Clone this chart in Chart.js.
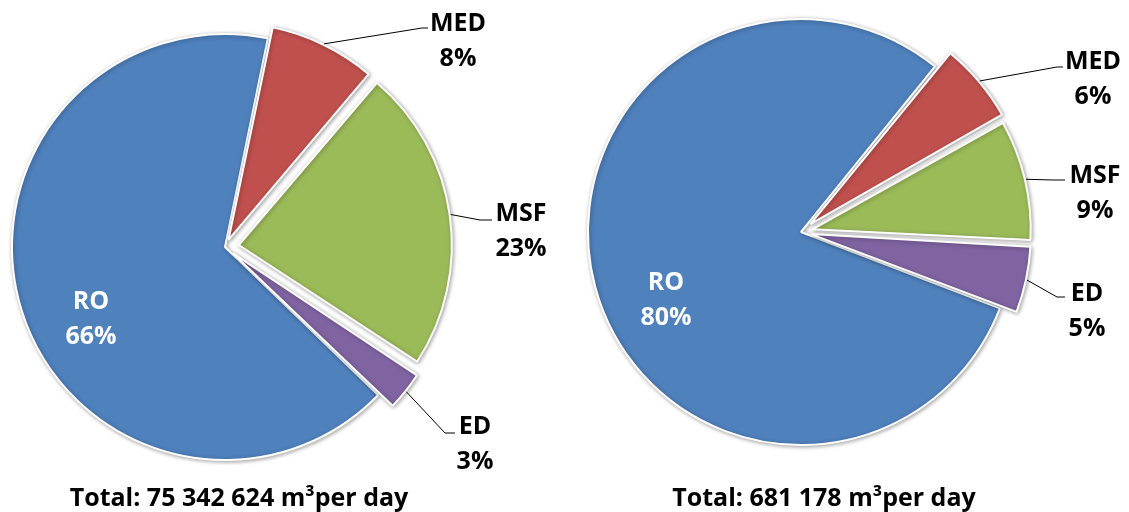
<!DOCTYPE html>
<html>
<head>
<meta charset="utf-8">
<script src="https://cdn.jsdelivr.net/npm/chart.js@4.4.0/dist/chart.umd.min.js"></script>
<style>
  body { margin: 0; background: #fff; }
  .wrap { position: relative; width: 1129px; height: 512px; overflow: hidden; }
  .wrap canvas { position: absolute; top: 0; }
  #pie_left { left: 0; }
  #pie_right { left: 565px; }
</style>
</head>
<body>
<div class="wrap">
  <canvas id="pie_left" width="565" height="512"></canvas>
  <canvas id="pie_right" width="564" height="512"></canvas>
</div>
<script>
const categories = ['RO', 'MED', 'MSF', 'ED'];
const sharesLeft = [66, 8, 23, 3];
const sharesRight = [80, 6, 9, 5];
const totalLeft = 'Total: 75 342 624 m³per day';
const totalRight = 'Total: 681 178 m³per day';

const sliceColors = ['#4F81BD', '#C0504D', '#9BBB59', '#8064A2'];
const FONT = '"Open Sans", "DejaVu Sans", sans-serif';

// chart.js moves an arc by offset/4 * (2 - sin(angle)), so turn pixels into its offset
function explodeOffset(explode) {
  return function (ctx) {
    const d = explode[ctx.dataIndex];
    const data = ctx.dataset.data;
    const sum = data.reduce((a, b) => a + b, 0);
    const circ = (data[ctx.dataIndex] / sum) * Math.PI * 2;
    return (4 * d) / (2 - Math.sin(Math.min(Math.PI, circ)));
  };
}

const pieLabels = {
  id: 'pieLabels',
  beforeDatasetsDraw(chart) {
    const c = chart.ctx;
    c.save();
    c.shadowColor = 'rgba(0, 0, 0, 0.35)';
    c.shadowBlur = 4;
    c.shadowOffsetX = 1;
    c.shadowOffsetY = 1;
  },
  afterDatasetsDraw(chart, args, opts) {
    const c = chart.ctx;
    c.restore();
    const meta = chart.getDatasetMeta(0);
    const values = chart.data.datasets[0].data;

    c.save();
    c.font = 'bold 25px ' + FONT;
    c.textAlign = 'center';
    c.textBaseline = 'alphabetic';
    meta.data.forEach((arc, i) => {
      const lab = opts.labels[i];
      if (lab.leader) {
        const p = arc.getProps(['x', 'y', 'startAngle', 'endAngle', 'outerRadius'], true);
        const mid = (p.startAngle + p.endAngle) / 2;
        const r = p.outerRadius + opts.explode[i] + 1;
        c.beginPath();
        c.moveTo(p.x + Math.cos(mid) * r, p.y + Math.sin(mid) * r);
        lab.leader.forEach(pt => c.lineTo(pt[0], pt[1]));
        c.strokeStyle = '#000';
        c.lineWidth = 1;
        c.stroke();
      }
      c.fillStyle = lab.color || '#000';
      c.fillText(chart.data.labels[i], lab.x, lab.y);
      c.fillText(values[i] + '%', lab.x, lab.y + 35);
    });

    c.fillStyle = '#000';
    c.fillText(opts.total, opts.totalX, opts.totalY);
    c.restore();
  }
};

function makePie(id, shares, rotation, padding, explode, labels, total, totalX) {
  return new Chart(document.getElementById(id), {
    type: 'pie',
    data: {
      labels: categories,
      datasets: [{
        data: shares,
        backgroundColor: sliceColors,
        borderColor: '#fff',
        borderWidth: 2,
        offset: explodeOffset(explode)
      }]
    },
    options: {
      responsive: false,
      animation: false,
      events: [],
      rotation: rotation,
      radius: 213,
      layout: { padding: padding },
      plugins: {
        legend: { display: false },
        tooltip: { enabled: false },
        pieLabels: {
          explode: explode,
          labels: labels,
          total: total,
          totalX: totalX,
          totalY: 506
        }
      }
    },
    plugins: [pieLabels]
  });
}

makePie('pie_left', sharesLeft, 134,
  { left: 0, right: 115, top: 0, bottom: 18 },
  [0, 12, 14, 18],
  [
    { x: 91, y: 309, color: '#fff' },
    { x: 458, y: 31, leader: [[422, 28], [428, 28]] },
    { x: 521, y: 221, leader: [[480, 220], [492, 220]] },
    { x: 475, y: 434, leader: [[445, 433], [455, 433]] }
  ],
  totalLeft, 239);

makePie('pie_right', sharesRight, 111,
  { left: 0, right: 92, top: 0, bottom: 48 },
  [0, 20, 17, 17],
  [
    { x: 101, y: 290, color: '#fff' },
    { x: 528, y: 69, leader: [[492, 67], [498, 67]] },
    { x: 530, y: 183, leader: [[488, 180], [500, 180]] },
    { x: 522, y: 301, leader: [[492, 297], [500, 297]] }
  ],
  totalRight, 259);
</script>
</body>
</html>
